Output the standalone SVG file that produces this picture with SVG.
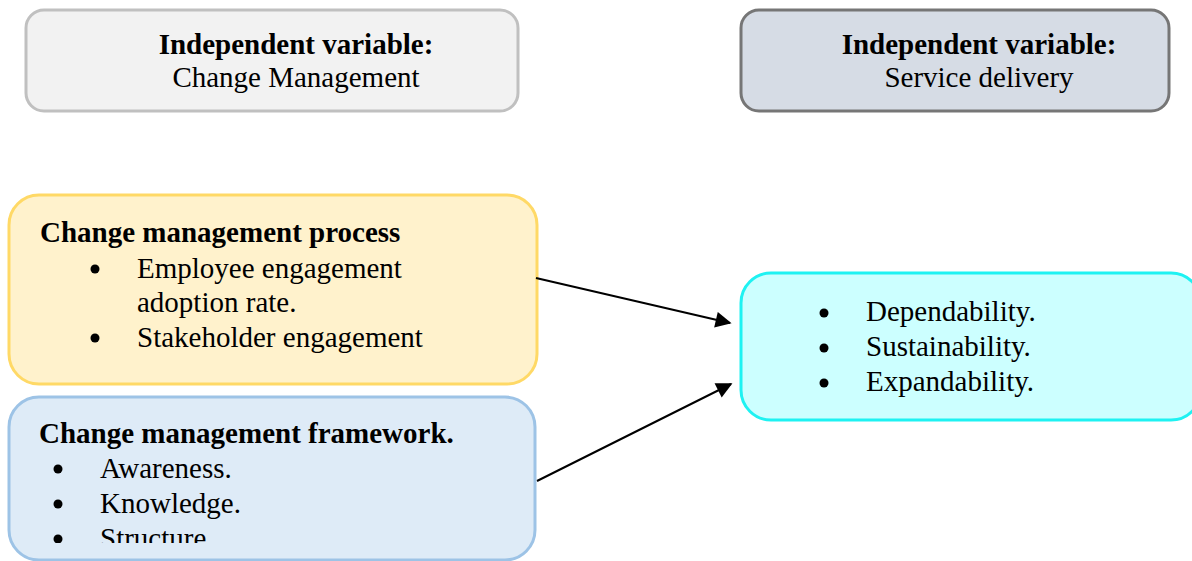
<svg xmlns="http://www.w3.org/2000/svg" width="1192" height="561" viewBox="0 0 1192 561">
  <style>
    text { font-family: "Liberation Serif", "Times New Roman", serif; font-size: 29px; fill: #000; }
    .b { font-weight: bold; }
    .box { stroke-width: 3; }
    .conn { stroke: #000; stroke-width: 2; fill: none; marker-end: url(#arrow); }
  </style>
  <defs>
    <marker id="arrow" viewBox="0 0 10 10" refX="9" refY="5" markerWidth="20" markerHeight="16" markerUnits="userSpaceOnUse" orient="auto">
      <path d="M0,0 L10,5 L0,10 z" fill="#000"/>
    </marker>
    <clipPath id="fwClip">
      <rect x="9" y="397" width="528" height="146"/>
    </clipPath>
  </defs>

  <g id="iv-change">
    <rect class="box" x="26" y="10" width="492" height="101" rx="18" fill="#f2f2f2" stroke="#c0c0c0"/>
    <text class="b" x="296" y="54" text-anchor="middle">Independent variable:</text>
    <text x="296" y="87" text-anchor="middle">Change Management</text>
  </g>

  <g id="iv-service">
    <rect class="box" x="741" y="10" width="428" height="101" rx="18" fill="#d6dce5" stroke="#767676"/>
    <text class="b" x="979" y="54" text-anchor="middle">Independent variable:</text>
    <text x="979" y="87" text-anchor="middle">Service delivery</text>
  </g>

  <g id="process">
    <rect class="box" x="9" y="195" width="528" height="189" rx="30" fill="#fff2cc" stroke="#ffd966"/>
    <text class="b" x="40" y="242">Change management process</text>
    <circle cx="95" cy="269" r="4.5"/>
    <text x="137" y="278">Employee engagement</text>
    <text x="137" y="312">adoption rate.</text>
    <circle cx="95" cy="338" r="4.5"/>
    <text x="137" y="347">Stakeholder engagement</text>
  </g>

  <g id="framework">
    <rect class="box" x="9" y="397" width="526" height="163" rx="30" fill="#deebf7" stroke="#9dc3e6"/>
    <text class="b" x="39" y="443">Change management framework.</text>
    <g clip-path="url(#fwClip)">
      <circle cx="58" cy="469" r="4.5"/>
      <text x="100" y="478">Awareness.</text>
      <circle cx="58" cy="504" r="4.5"/>
      <text x="100" y="513">Knowledge.</text>
      <circle cx="58" cy="539" r="4.5"/>
      <text x="100" y="548">Structure.</text>
    </g>
  </g>

  <g id="service-outcomes">
    <rect class="box" x="741" y="273" width="460" height="147" rx="30" fill="#ccffff" stroke="#1ef2f2"/>
    <circle cx="824" cy="313" r="4.5"/>
    <text x="866" y="321">Dependability.</text>
    <circle cx="824" cy="348" r="4.5"/>
    <text x="866" y="356">Sustainability.</text>
    <circle cx="824" cy="383" r="4.5"/>
    <text x="866" y="391">Expandability.</text>
  </g>

  <g id="connectors">
    <line class="conn" x1="536" y1="278" x2="730" y2="323"/>
    <line class="conn" x1="537" y1="481" x2="731" y2="384"/>
  </g>
</svg>
